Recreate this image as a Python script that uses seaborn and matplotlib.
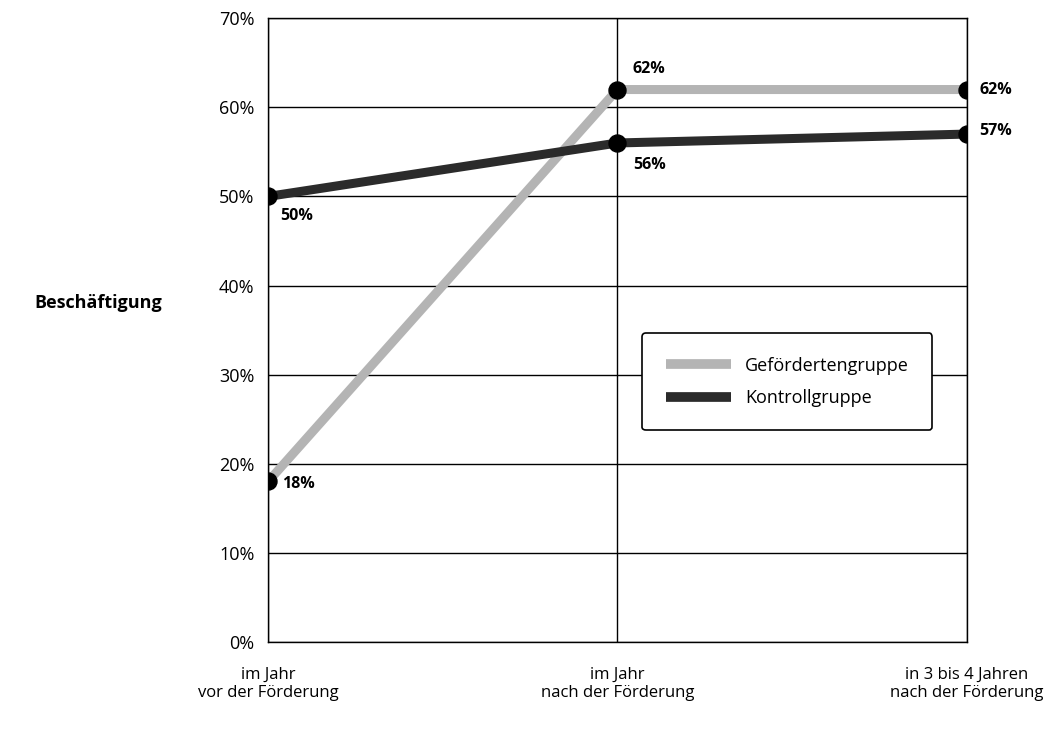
import pandas as pd
import matplotlib
matplotlib.use("Agg")
import matplotlib.pyplot as plt
from matplotlib.lines import Line2D
import seaborn as sns

# data
zeitpunkte = ["im Jahr\nvor der Förderung",
              "im Jahr\nnach der Förderung",
              "in 3 bis 4 Jahren\nnach der Förderung"]
gefoerderte = [18, 62, 62]
kontrolle = [50, 56, 57]
gruppen = ["Gefördertengruppe", "Kontrollgruppe"]
farben = ["#b4b4b4", "#2b2b2b"]

data = pd.DataFrame({
    "pos": list(range(3)) * 2,
    "wert": gefoerderte + kontrolle,
    "gruppe": [gruppen[0]] * 3 + [gruppen[1]] * 3,
})

sns.set_theme(style="white")
plt.rcParams["font.family"] = ["Open Sans", "DejaVu Sans"]
plt.rcParams["text.color"] = "black"
plt.rcParams["xtick.color"] = "black"
plt.rcParams["ytick.color"] = "black"
plt.rcParams["axes.labelcolor"] = "black"

fig = plt.figure(figsize=(10.6, 7.31), dpi=100)
ax = fig.add_axes([0.253, 0.122, 0.659, 0.853])

sns.lineplot(data=data, x="pos", y="wert", hue="gruppe", palette=farben,
             linewidth=6.5, legend=False, ax=ax, zorder=3)
sns.scatterplot(data=data, x="pos", y="wert", color="black", s=150,
                edgecolor="black", legend=False, ax=ax, zorder=4)

# value labels
offs_g = [(10, -2), (11, 15), (9, 0)]
offs_k = [(9, -14), (11, -16), (9, 2)]
for i in range(3):
    ax.annotate(f"{gefoerderte[i]}%", (i, gefoerderte[i]), xytext=offs_g[i],
                textcoords="offset points", fontsize=11.5, fontweight="bold",
                va="center", ha="left", annotation_clip=False)
    ax.annotate(f"{kontrolle[i]}%", (i, kontrolle[i]), xytext=offs_k[i],
                textcoords="offset points", fontsize=11.5, fontweight="bold",
                va="center", ha="left", annotation_clip=False)

ax.set_xlim(0, 2)
ax.set_ylim(0, 70)
ax.set_xticks(range(3))
ax.set_xticklabels(zeitpunkte, fontsize=12)
ax.set_yticks(range(0, 71, 10))
ax.set_yticklabels([f"{v}%" for v in range(0, 71, 10)], fontsize=13)
ax.tick_params(axis="both", direction="out", length=6, width=1, color="black")
ax.tick_params(axis="x", pad=12)
ax.tick_params(axis="y", pad=4)
ax.grid(True, color="black", linewidth=1)
for s in ax.spines.values():
    s.set_color("black")
    s.set_linewidth(1)

ax.set_xlabel("")
ax.set_ylabel("Beschäftigung", rotation=0, fontsize=13, fontweight="bold",
              ha="center", va="center")
ax.yaxis.set_label_coords(-0.243, 0.543)

handles = [Line2D([], [], color=farben[0], linewidth=7, solid_capstyle="butt"),
           Line2D([], [], color=farben[1], linewidth=7, solid_capstyle="butt")]
leg = ax.legend(handles, gruppen, loc="center", bbox_to_anchor=(0.743, 0.417),
                fontsize=13, handlelength=3.6, frameon=True, fancybox=True,
                borderpad=1.3, labelspacing=0.8, edgecolor="black")
leg.get_frame().set_linewidth(1.2)
leg.get_frame().set_alpha(1)

fig.savefig("out.png", dpi=100, facecolor="white")
